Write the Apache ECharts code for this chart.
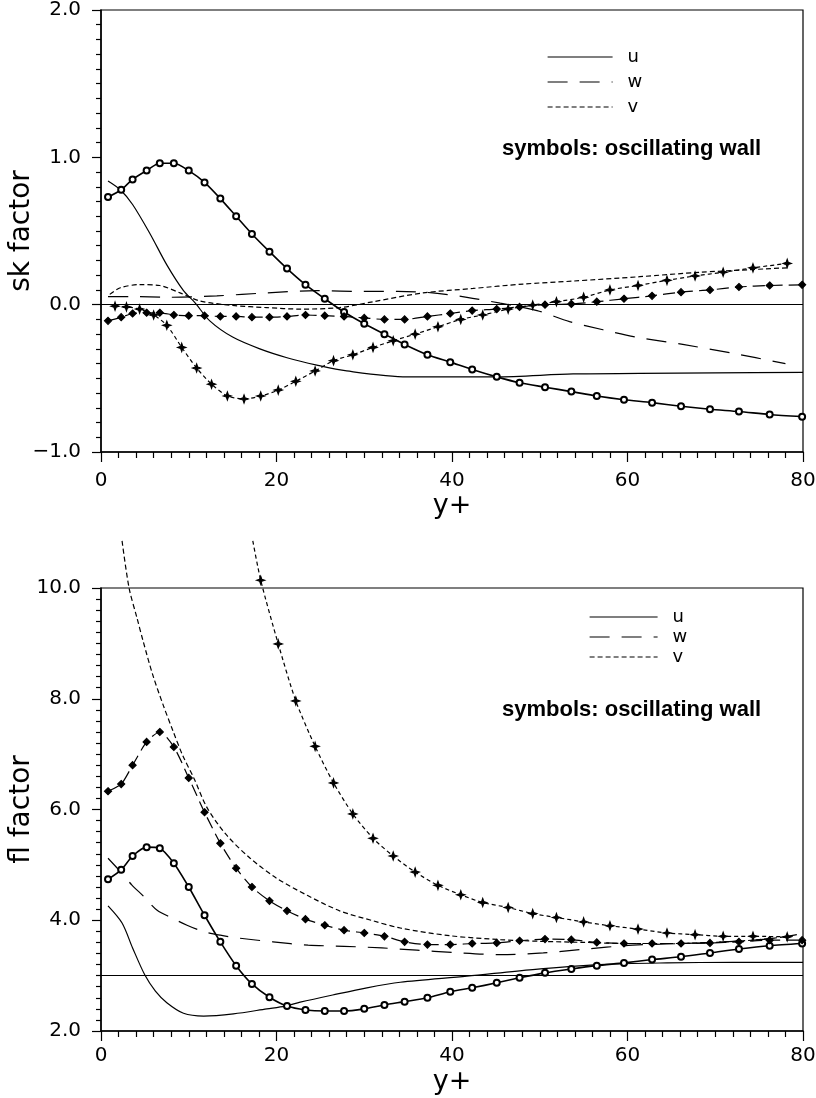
<!DOCTYPE html>
<html>
<head>
<meta charset="utf-8">
<title>sk / fl factor</title>
<script src="https://cdn.jsdelivr.net/npm/echarts/dist/echarts.min.js"></script>
<style>
  html, body { margin: 0; padding: 0; background: #fff; }
  #chart { width: 816px; height: 1098px; }
</style>
</head>
<body>
<div id="chart"></div>
<script>
// y+ stations of the oscillating wall symbols (u and w), v sits on the staggered grid
const yPlus = [0.8, 2.3, 3.6, 5.2, 6.7, 8.3, 10.0, 11.8, 13.6, 15.4, 17.2, 19.2, 21.2, 23.3, 25.5, 27.7, 30.0,
    32.3, 34.6, 37.2, 39.8, 42.3, 45.1, 47.7, 50.6, 53.6, 56.5, 59.6, 62.8, 66.1, 69.4, 72.7, 76.2, 79.9]
const yPlusV = [1.6, 2.9, 4.4, 6.0, 7.5, 9.2, 10.9, 12.6, 14.4, 16.3, 18.2, 20.2, 22.2, 24.4, 26.5, 28.7, 31.0,
    33.3, 35.8, 38.4, 41.0, 43.5, 46.4, 49.2, 51.9, 55.0, 58.0, 61.2, 64.5, 67.7, 70.9, 74.3, 78.2]

// ---- top panel: skewness ----
const skUx = [0.8, 2.2, 3.6, 5.6, 7.5, 9.4, 10.7, 12.4, 15, 18.1, 21.2, 24.6, 28, 34.9, 45, 53.8, 61.4, 70, 80]
const skUy = [0.84, 0.78, 0.68, 0.48, 0.27, 0.095, 0.014, -0.11, -0.22, -0.30, -0.36, -0.41, -0.45, -0.49, -0.49, -0.47, -0.467, -0.463, -0.46]
const skWx = [0.8, 3.6, 7.5, 13.2, 18.9, 24.6, 29.9, 33.8, 37.8, 41.7, 45.5, 49.7, 53.4, 57.2, 61, 66.3, 72, 78]
const skWy = [0.055, 0.055, 0.05, 0.06, 0.08, 0.095, 0.09, 0.09, 0.08, 0.05, 0.01, -0.04, -0.115, -0.17, -0.22, -0.27, -0.33, -0.40]
const skVx = [1.0, 2.2, 4.4, 6.7, 9, 11.3, 15, 18.9, 22.7, 27.2, 31, 36.7, 42.4, 48.1, 53.8, 61.4, 68.3, 78.2]
const skVy = [0.07, 0.115, 0.136, 0.13, 0.08, 0.025, -0.005, -0.02, -0.03, -0.02, 0.02, 0.08, 0.11, 0.14, 0.16, 0.19, 0.22, 0.25]
const skUosc = [0.73, 0.78, 0.85, 0.91, 0.96, 0.96, 0.91, 0.83, 0.72, 0.60, 0.48, 0.36, 0.245, 0.136, 0.04, -0.05, -0.13,
    -0.20, -0.27, -0.34, -0.39, -0.44, -0.49, -0.53, -0.56, -0.59, -0.62, -0.645, -0.665, -0.69, -0.71, -0.725, -0.745, -0.76]
const skWosc = [-0.11, -0.085, -0.06, -0.055, -0.055, -0.07, -0.075, -0.075, -0.08, -0.08, -0.085, -0.085, -0.08, -0.07,
    -0.075, -0.08, -0.09, -0.10, -0.10, -0.08, -0.06, -0.04, -0.03, -0.015, 0.0, 0.005, 0.02, 0.04, 0.06, 0.085, 0.10,
    0.12, 0.13, 0.135]
const skVosc = [-0.01, -0.015, -0.03, -0.07, -0.14, -0.29, -0.43, -0.54, -0.62, -0.64, -0.62, -0.58, -0.52, -0.45, -0.38,
    -0.34, -0.29, -0.245, -0.20, -0.15, -0.10, -0.07, -0.03, -0.003, 0.02, 0.05, 0.10, 0.13, 0.165, 0.195, 0.22, 0.25, 0.28]

// ---- bottom panel: flatness ----
const flUx = [0.8, 2.4, 3.6, 5.0, 6.2, 7.5, 9.4, 11.7, 15.1, 18.9, 21, 22.7, 26.4, 30.3, 34.1, 41.7, 49.2, 56.9, 64.5, 72, 80]
const flUy = [4.26, 3.95, 3.50, 3.01, 2.72, 2.51, 2.32, 2.27, 2.31, 2.40, 2.45, 2.52, 2.65, 2.78, 2.88, 2.99, 3.11, 3.20, 3.23, 3.24, 3.24]
const flWx = [0.8, 2.2, 3.5, 4.8, 6.4, 8.1, 9.8, 11.6, 13.6, 15.6, 19.6, 23.6, 27.7, 32, 36, 40, 45.5, 50.4, 54.6, 60.6, 68.3, 75.9, 79.3]
const flWy = [5.12, 4.88, 4.64, 4.44, 4.18, 4.04, 3.91, 3.80, 3.73, 3.68, 3.61, 3.55, 3.53, 3.50, 3.46, 3.42, 3.38, 3.41, 3.47, 3.55, 3.59, 3.66, 3.74]
const flVx = [2.4, 3.2, 4.1, 4.8, 5.9, 7.1, 8.2, 9.3, 10.6, 12.1, 14.3, 17, 20, 23.5, 27.2, 31, 34.1, 39.8, 45.5, 50, 55, 60, 65, 70, 75, 79]
const flVy = [10.85, 10.0, 9.46, 9.04, 8.43, 7.88, 7.42, 6.98, 6.56, 6.03, 5.54, 5.12, 4.76, 4.45, 4.17, 3.99, 3.86, 3.72, 3.65, 3.62, 3.60, 3.58, 3.58, 3.60, 3.65, 3.72]
const flUosc = [4.74, 4.91, 5.16, 5.32, 5.30, 5.03, 4.60, 4.09, 3.61, 3.18, 2.85, 2.61, 2.45, 2.38, 2.36, 2.36, 2.40, 2.47,
    2.53, 2.60, 2.71, 2.78, 2.87, 2.96, 3.05, 3.12, 3.18, 3.23, 3.29, 3.34, 3.41, 3.48, 3.54, 3.58]
const flWosc = [6.33, 6.46, 6.80, 7.22, 7.40, 7.13, 6.57, 5.95, 5.39, 4.94, 4.60, 4.35, 4.17, 4.02, 3.91, 3.82, 3.77, 3.71,
    3.61, 3.56, 3.56, 3.58, 3.59, 3.63, 3.66, 3.65, 3.60, 3.58, 3.58, 3.58, 3.59, 3.61, 3.64, 3.64]
const flVoscX = [17.3, 18.2, 20.2, 22.2, 24.4, 26.5, 28.7, 31.0, 33.3, 35.8, 38.4, 41.0, 43.5, 46.4, 49.2, 51.9, 55.0,
    58.0, 61.2, 64.5, 67.7, 70.9, 74.3, 78.2]
const flVosc = [10.85, 10.14, 8.99, 7.96, 7.14, 6.48, 5.92, 5.48, 5.16, 4.87, 4.63, 4.46, 4.32, 4.23, 4.12, 4.05, 3.97,
    3.90, 3.84, 3.77, 3.74, 3.71, 3.71, 3.70]

// gaussian reference levels (skewness 0, flatness 3)
const skRef = 0
const flRef = 3

const xTicks = [0, 20, 40, 60, 80]
const legendNames = ['u', 'w', 'v']

const pair = (xs, ys) => xs.map((x, i) => [x, ys[i]])

const black = '#000'
const thin = 1.2
const dashW = [20, 12]
const dashV = [5, 3]
const star = 'path://M5 0 L6.3 3.7 L10 5 L6.3 6.3 L5 10 L3.7 6.3 L0 5 L3.7 3.7 Z'
const axisFont = 'DejaVu Sans'

var myChart = echarts.init(document.getElementById('chart'))

function xAxisFor(idx, labelMargin, nameGap) {
    return {
        gridIndex: idx,
        type: 'value',
        min: xTicks[0],
        max: xTicks[xTicks.length - 1],
        interval: xTicks[1] - xTicks[0],
        axisLine: { show: true, onZero: false, lineStyle: { color: black, width: 1.5 } },
        axisTick: { show: true, inside: false, length: 10, lineStyle: { color: black, width: thin } },
        minorTick: { show: true, splitNumber: 10, length: 6, lineStyle: { color: black, width: thin } },
        splitLine: { show: false },
        axisLabel: { show: true, margin: labelMargin, color: black, fontSize: 20, fontFamily: axisFont },
        name: 'y+',
        nameLocation: 'middle',
        nameGap: nameGap,
        nameMoveOverlap: false,
        nameTextStyle: { color: black, fontSize: 27, fontFamily: axisFont },
    }
}

function yAxisFor(idx, min, max, interval, name) {
    return {
        gridIndex: idx,
        type: 'value',
        min: min,
        max: max,
        interval: interval,
        axisLine: { show: true, onZero: false, lineStyle: { color: black, width: 1.5 } },
        axisTick: { show: true, inside: false, length: 9, lineStyle: { color: black, width: thin } },
        minorTick: { show: true, splitNumber: 10, length: 5, lineStyle: { color: black, width: thin } },
        splitLine: { show: false },
        axisLabel: {
            show: true, margin: 20, color: black, fontSize: 20, fontFamily: axisFont,
            formatter: (v) => v.toFixed(1).replace('-', '\u2212'),
        },
        name: name,
        nameLocation: 'middle',
        nameGap: 65,
        nameMoveOverlap: false,
        nameTextStyle: { color: black, fontSize: 28, fontFamily: axisFont },
    }
}

function plain(idx, name, data, type, ref) {
    let s = {
        name: name,
        type: 'line',
        xAxisIndex: idx,
        yAxisIndex: idx,
        data: data,
        symbol: 'none',
        smooth: 0.3,
        clip: idx === 0,
        lineStyle: { color: black, width: thin, type: type },
        itemStyle: { color: black },
        z: 3,
    }
    if (ref !== undefined) {
        s.markLine = {
            silent: true,
            symbol: 'none',
            label: { show: false },
            lineStyle: { color: black, type: 'solid', width: thin },
            data: [{ yAxis: ref }],
        }
    }
    return s
}

function osc(idx, name, data, type, symbol, size, width, yTop) {
    return {
        name: name,
        type: 'line',
        xAxisIndex: idx,
        yAxisIndex: idx,
        data: data,
        // the plotter cut the curve at the top, no symbol there
        symbol: (v) => (v[1] > yTop ? 'none' : symbol),
        symbolSize: size,
        showAllSymbol: true,
        smooth: 0.25,
        clip: idx === 0,
        lineStyle: { color: black, width: width, type: type },
        itemStyle: { color: black, borderColor: black, borderWidth: thin },
        z: 4,
    }
}

function legendFor(left, top, width, gap) {
    return {
        data: legendNames,
        orient: 'vertical',
        left: left,
        top: top,
        padding: 0,
        itemWidth: width,
        itemHeight: 14,
        itemGap: gap,
        selectedMode: false,
        itemStyle: { opacity: 0, borderWidth: 0 },
        lineStyle: { width: thin },
        textStyle: { color: black, fontSize: 18, fontFamily: axisFont, padding: [0, 0, 0, 10] },
    }
}

option = {
    backgroundColor: '#fff',
    animation: false,
    grid: [
        { left: 101, top: 10, width: 702, height: 442, outerBoundsMode: 'none', containLabel: false,
          show: true, borderColor: black, borderWidth: thin },
        { left: 101, top: 588, width: 702, height: 443, outerBoundsMode: 'none', containLabel: false,
          show: true, borderColor: black, borderWidth: thin },
    ],
    xAxis: [xAxisFor(0, 19, 40), xAxisFor(1, 15, 37)],
    yAxis: [yAxisFor(0, -1, 2, 1, 'sk factor'), yAxisFor(1, 2, 10, 2, 'fl factor')],
    legend: [legendFor(547, 48, 65, 7), legendFor(589, 608, 68, 2)],
    graphic: [
        { type: 'text', left: 502, top: 138, style: { text: 'symbols: oscillating wall', font: 'bold 22px "Liberation Sans"', fill: black } },
        { type: 'text', left: 502, top: 699, style: { text: 'symbols: oscillating wall', font: 'bold 22px "Liberation Sans"', fill: black } },
    ],
    series: [
        plain(0, 'u', pair(skUx, skUy), 'solid', skRef),
        plain(0, 'w', pair(skWx, skWy), dashW),
        plain(0, 'v', pair(skVx, skVy), dashV),
        osc(0, 'u oscillating', pair(yPlus, skUosc), 'solid', 'emptyCircle', 6, 1.6, 99),
        osc(0, 'w oscillating', pair(yPlus, skWosc), [12, 6], 'diamond', 7, thin, 99),
        osc(0, 'v oscillating', pair(yPlusV, skVosc), [4, 3], star, 8, thin, 99),

        plain(1, 'u', pair(flUx, flUy), 'solid', flRef),
        plain(1, 'w', pair(flWx, flWy), dashW),
        plain(1, 'v', pair(flVx, flVy), dashV),
        osc(1, 'u oscillating', pair(yPlus, flUosc), 'solid', 'emptyCircle', 6, 1.6, 10.5),
        osc(1, 'w oscillating', pair(yPlus, flWosc), [12, 6], 'diamond', 7, thin, 10.5),
        osc(1, 'v oscillating', pair(flVoscX, flVosc), [4, 3], star, 8, thin, 10.5),
    ],
}

myChart.setOption(option)
</script>
</body>
</html>
